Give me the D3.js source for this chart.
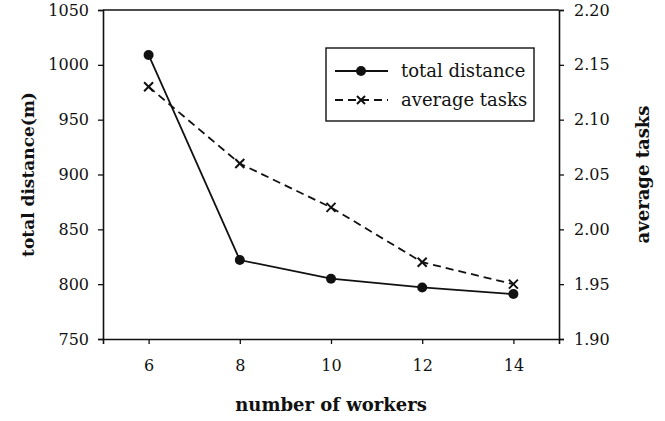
<!DOCTYPE html>
<html><head><meta charset="utf-8">
<script src="https://cdn.jsdelivr.net/npm/d3@7"></script>
<style>body{margin:0;background:#fff}svg{display:block}</style>
</head><body>
<script>
const workers = [6, 8, 10, 12, 14];
const totalDistance = [1009, 822, 805, 797, 791];
const averageTasks = [2.13, 2.06, 2.02, 1.97, 1.95];
const xTicks = [6, 8, 10, 12, 14];
const leftTicks = [750, 800, 850, 900, 950, 1000, 1050];
const rightTicks = [1.90, 1.95, 2.00, 2.05, 2.10, 2.15, 2.20];
const seriesNames = ["total distance", "average tasks"];

const W = 665, H = 421;
const m = {left: 103, right: 559, top: 10, bottom: 339};
const FONT = "DejaVu Serif";

const svg = d3.select("body").append("svg").attr("width", W).attr("height", H)
  .attr("font-family", FONT);
const x = d3.scaleLinear().domain([5, 15]).range([m.left, m.right]);
const yL = d3.scaleLinear().domain([750, 1050]).range([m.bottom, m.top]);
const yR = d3.scaleLinear().domain([1.90, 2.20]).range([m.bottom, m.top]);

const col = "#111";
function styleAxis(g) {
  g.attr("font-family", FONT).attr("font-size", 16);
  g.selectAll("path").attr("stroke", col).attr("stroke-width", 1.6);
  g.selectAll("line").attr("stroke", col).attr("stroke-width", 1.3);
  g.selectAll("text").attr("font-family", FONT).attr("font-size", 16).attr("fill", col);
}
// top frame line
svg.append("line").attr("x1", m.left).attr("x2", m.right).attr("y1", m.top).attr("y2", m.top)
  .attr("stroke", col).attr("stroke-width", 1.6);

svg.append("g").attr("transform", `translate(0,${m.bottom})`)
  .call(d3.axisBottom(x).tickValues(xTicks).tickSizeOuter(0).tickSize(5).tickPadding(16))
  .call(styleAxis);
svg.append("g").attr("transform", `translate(${m.left},0)`)
  .call(d3.axisLeft(yL).tickValues(leftTicks).tickSizeOuter(0).tickSize(5).tickPadding(9).tickFormat(d3.format("d")))
  .call(styleAxis);
svg.append("g").attr("transform", `translate(${m.right},0)`)
  .call(d3.axisRight(yR).tickValues(rightTicks).tickSizeOuter(0).tickSize(5).tickPadding(10).tickFormat(d3.format(".2f")))
  .call(styleAxis);

// axis titles
function title(t, size) {
  return t.attr("text-anchor", "middle").attr("font-family", FONT).attr("font-weight", "bold")
    .attr("font-size", size).attr("fill", col);
}
svg.append("text").attr("x", (m.left + m.right) / 2).attr("y", 411).call(title, 18).text("number of workers");
svg.append("text").attr("transform", `translate(34,${(m.top + m.bottom) / 2}) rotate(-90)`).call(title, 17).text("total distance(m)");
svg.append("text").attr("transform", `translate(649,${(m.top + m.bottom) / 2}) rotate(-90)`).call(title, 18).text("average tasks");

const dist = workers.map((w, i) => ({w, v: totalDistance[i]}));
const tasks = workers.map((w, i) => ({w, v: averageTasks[i]}));

svg.append("path").datum(tasks).attr("fill", "none").attr("stroke", col).attr("stroke-width", 1.8)
  .attr("stroke-dasharray", "8,5")
  .attr("d", d3.line().x(d => x(d.w)).y(d => yR(d.v)));
svg.append("path").datum(dist).attr("fill", "none").attr("stroke", col).attr("stroke-width", 1.8)
  .attr("d", d3.line().x(d => x(d.w)).y(d => yL(d.v)));

function cross(g, cx, cy, s) {
  g.append("path").attr("d", `M${cx - s},${cy - s}L${cx + s},${cy + s}M${cx - s},${cy + s}L${cx + s},${cy - s}`)
    .attr("stroke", col).attr("stroke-width", 2).attr("fill", "none");
}
tasks.forEach(d => cross(svg, x(d.w), yR(d.v), 4.5));
svg.selectAll("circle.pt").data(dist).join("circle").attr("class", "pt")
  .attr("cx", d => x(d.w)).attr("cy", d => yL(d.v)).attr("r", 5).attr("fill", col);

// legend
const lg = svg.append("g");
lg.append("rect").attr("x", 326).attr("y", 48).attr("width", 208).attr("height", 73)
  .attr("fill", "#fff").attr("stroke", col).attr("stroke-width", 1.4);
lg.append("line").attr("x1", 335).attr("x2", 388).attr("y1", 71).attr("y2", 71).attr("stroke", col).attr("stroke-width", 1.8);
lg.append("circle").attr("cx", 361).attr("cy", 71).attr("r", 5).attr("fill", col);
lg.append("line").attr("x1", 335).attr("x2", 388).attr("y1", 100).attr("y2", 100).attr("stroke", col).attr("stroke-width", 1.8)
  .attr("stroke-dasharray", "8,5");
cross(lg, 361, 100, 4);
seriesNames.forEach((n, i) => {
  lg.append("text").attr("x", 401).attr("y", 71 + i * 29).attr("dy", "0.33em")
    .attr("font-family", FONT).attr("font-size", 18).attr("fill", col).text(n);
});
</script>
</body></html>
